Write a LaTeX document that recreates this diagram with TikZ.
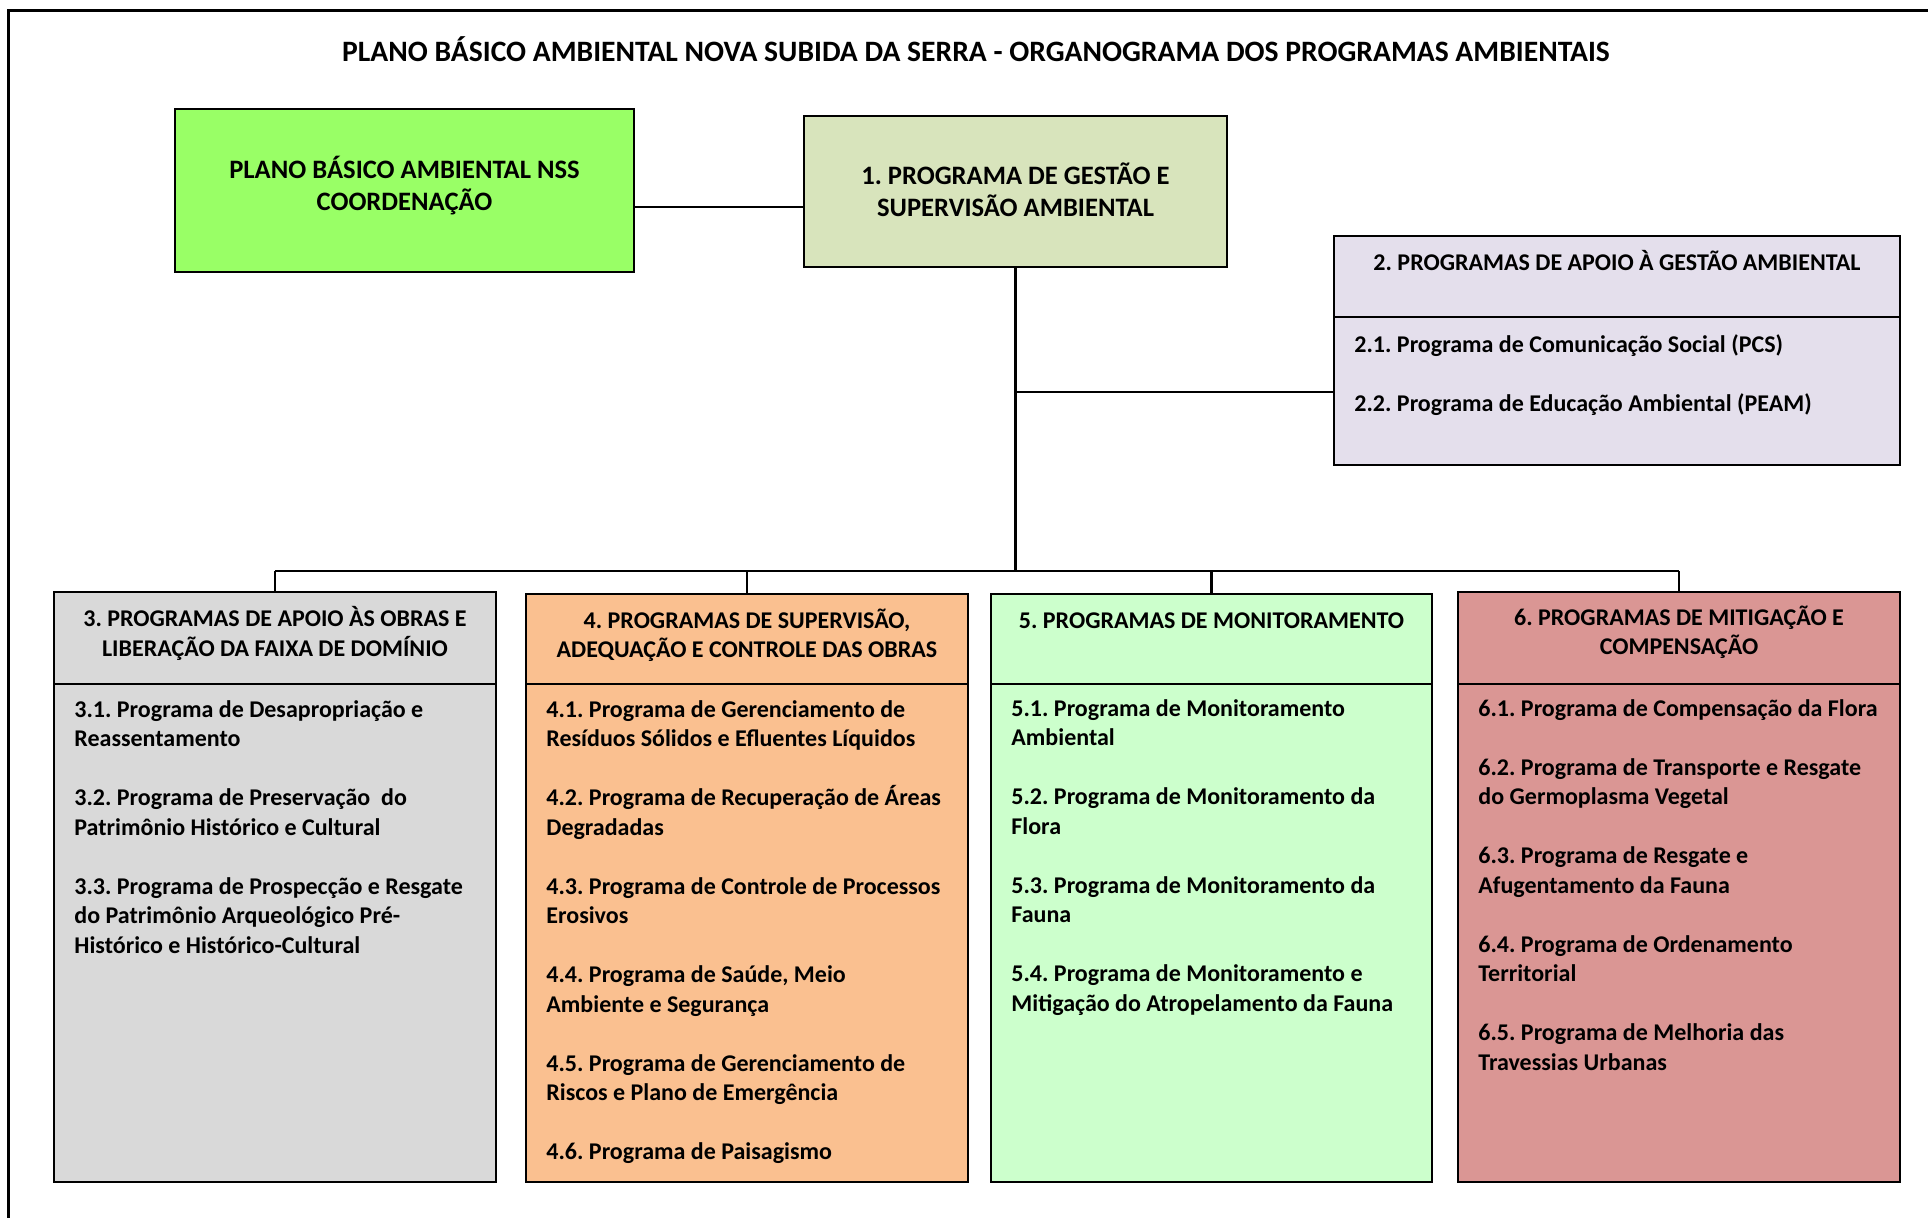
\documentclass[tikz,border=0pt]{standalone}
\usepackage{fontspec}
\setmainfont{Carlito}
\usetikzlibrary{fit}
\definecolor{cgreen}{HTML}{99FF66}
\definecolor{cone}{HTML}{D8E4BC}
\definecolor{ctwo}{HTML}{E4DFEC}
\definecolor{cthree}{HTML}{D9D9D9}
\definecolor{cfour}{HTML}{FAC090}
\definecolor{cfive}{HTML}{CCFFCC}
\definecolor{csix}{HTML}{DA9694}
\newcommand\firstln{\rule{0pt}{1em}}
\frenchspacing
\begin{document}
\begin{tikzpicture}[x=0.5pt,y=-0.5pt,
  box/.style={draw=black,line width=1.2pt,inner sep=0pt},
  conn/.style={draw=black,line width=1.1pt},
  head/.style={anchor=north,align=center,inner sep=0pt,font=\frenchspacing\bfseries\fontsize{12}{14.75}\selectfont},
  body/.style={anchor=north west,align=left,inner sep=0pt,font=\frenchspacing\bfseries\fontsize{12}{14.75}\selectfont},
  tophead/.style={anchor=north,align=center,inner sep=0pt,font=\frenchspacing\bfseries\fontsize{13.3}{16.3}\selectfont}]
\useasboundingbox (0,0) rectangle (1928,1218);
\fill[white] (0,0) rectangle (1928,1218);
\draw[line width=1.5pt] (8,1218) -- (8,11) -- (1928,11);

% title
\node[anchor=base,inner sep=0pt,font=\bfseries\fontsize{14.8}{17.5}\selectfont] (title) at (976,62)
  {PLANO BÁSICO AMBIENTAL NOVA SUBIDA DA SERRA - ORGANOGRAMA DOS PROGRAMAS AMBIENTAIS};

% top boxes
\node[box,fill=cgreen,fit={(175,109) (634,272)}] (g) {};
\node[box,fill=cone,fit={(804,116) (1227,267)}] (b1) {};
\node[box,fill=ctwo,fit={(1334,236) (1900,317)}] (b2h) {};
\node[box,fill=ctwo,fit={(1334,317) (1900,465)}] (b2b) {};

% bottom boxes
\node[box,fill=cthree,fit={(54,592) (496,684)}] (b3h) {};
\node[box,fill=cthree,fit={(54,684) (496,1182)}] (b3b) {};
\node[box,fill=cfour,fit={(526,594) (968,684)}] (b4h) {};
\node[box,fill=cfour,fit={(526,684) (968,1182)}] (b4b) {};
\node[box,fill=cfive,fit={(991,594) (1432,684)}] (b5h) {};
\node[box,fill=cfive,fit={(991,684) (1432,1182)}] (b5b) {};
\node[box,fill=csix,fit={(1458,592) (1900,684)}] (b6h) {};
\node[box,fill=csix,fit={(1458,684) (1900,1182)}] (b6b) {};

% connectors
\coordinate (j1) at (700,207);
\coordinate (br) at (1100,392);
\coordinate (bus) at (1000,571);
\draw[conn] (g.east |- j1) -- (b1.west |- j1);
\draw[conn] (b1.south) -- (b1.south |- bus);
\draw[conn] (b1.south |- br) -- (b2b.west |- br);
\draw[conn] (b3h.north |- bus) -- (b6h.north |- bus);
\draw[conn] (b3h.north |- bus) -- (b3h.north);
\draw[conn] (b4h.north |- bus) -- (b4h.north);
\draw[conn] (b5h.north |- bus) -- (b5h.north);
\draw[conn] (b6h.north |- bus) -- (b6h.north);

% texts top
\node[tophead] (tg) at (404.5,151.4) {\firstln PLANO BÁSICO AMBIENTAL NSS\\COORDENAÇÃO};
\node[tophead] (t1) at (1015.5,157.4) {\firstln 1. PROGRAMA DE GESTÃO E\\SUPERVISÃO AMBIENTAL};
\node[head] (t2h) at (1617,246) {\firstln 2. PROGRAMAS DE APOIO À GESTÃO AMBIENTAL};
\node[body] (t2b) at (1354,328) {\firstln 2.1. Programa de Comunicação Social (PCS)\\[\baselineskip]
  2.2. Programa de Educação Ambiental (PEAM)};

% texts bottom headers
\node[head] (t3h) at (275,602.5) {\firstln 3. PROGRAMAS DE APOIO ÀS OBRAS E\\LIBERAÇÃO DA FAIXA DE DOMÍNIO};
\node[head] (t4h) at (747,603.7) {\firstln 4. PROGRAMAS DE SUPERVISÃO,\\ADEQUAÇÃO E CONTROLE DAS OBRAS};
\node[head] (t5h) at (1211.5,603.7) {\firstln 5. PROGRAMAS DE MONITORAMENTO};
\node[head] (t6h) at (1679,601) {\firstln 6. PROGRAMAS DE MITIGAÇÃO E\\COMPENSAÇÃO};

% texts bottom bodies
\node[body] (t3b) at (74,693) {\firstln 3.1. Programa de Desapropriação e\\Reassentamento\\[\baselineskip]
  3.2. Programa de Preservação\ \ do\\Patrimônio Histórico e Cultural\\[\baselineskip]
  3.3. Programa de Prospecção e Resgate\\do Patrimônio Arqueológico Pré-\\Histórico e Histórico-Cultural};
\node[body] (t4b) at (546,693) {\firstln 4.1. Programa de Gerenciamento de\\Resíduos Sólidos e Efluentes Líquidos\\[\baselineskip]
  4.2. Programa de Recuperação de Áreas\\Degradadas\\[\baselineskip]
  4.3. Programa de Controle de Processos\\Erosivos\\[\baselineskip]
  4.4. Programa de Saúde, Meio\\Ambiente e Segurança\\[\baselineskip]
  4.5. Programa de Gerenciamento de\\Riscos e Plano de Emergência\\[\baselineskip]
  4.6. Programa de Paisagismo};
\node[body] (t5b) at (1011,692) {\firstln 5.1. Programa de Monitoramento\\Ambiental\\[\baselineskip]
  5.2. Programa de Monitoramento da\\Flora\\[\baselineskip]
  5.3. Programa de Monitoramento da\\Fauna\\[\baselineskip]
  5.4. Programa de Monitoramento e\\Mitigação do Atropelamento da Fauna};
\node[body] (t6b) at (1478,692) {\firstln 6.1. Programa de Compensação da Flora\\[\baselineskip]
  6.2. Programa de Transporte e Resgate\\do Germoplasma Vegetal\\[\baselineskip]
  6.3. Programa de Resgate e\\Afugentamento da Fauna\\[\baselineskip]
  6.4. Programa de Ordenamento\\Territorial\\[\baselineskip]
  6.5. Programa de Melhoria das\\Travessias Urbanas};
\end{tikzpicture}
\end{document}
